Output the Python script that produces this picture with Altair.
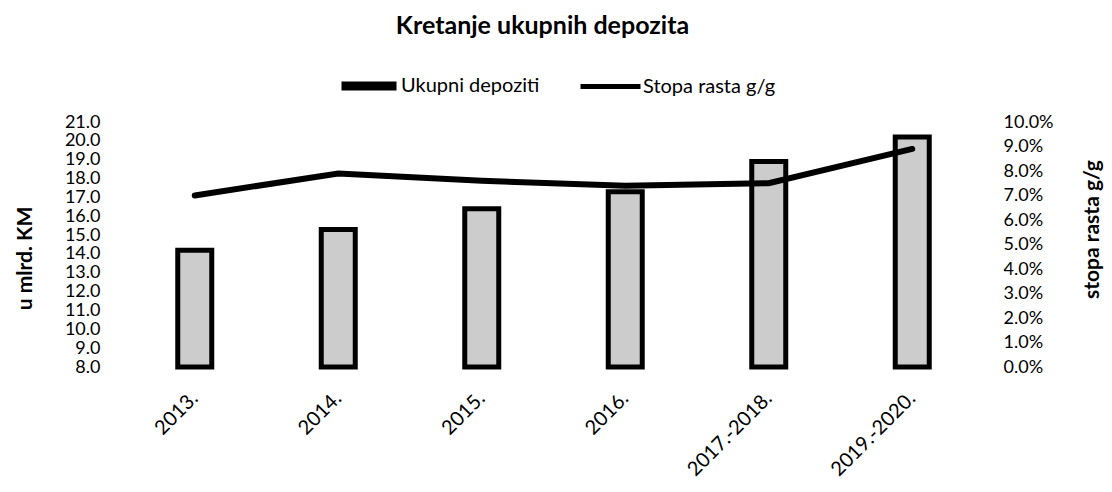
import altair as alt
import pandas as pd

categories = ["2013.", "2014.", "2015.", "2016.", "2017.-2018.", "2019.-2020."]
deposits = [14.2, 15.3, 16.4, 17.3, 18.9, 20.2]
growth = [0.070, 0.079, 0.076, 0.074, 0.075, 0.089]
left_ticks = [8, 9, 10, 11, 12, 13, 14, 15, 16, 17, 18, 19, 20, 21]
right_ticks = [0.0, 0.01, 0.02, 0.03, 0.04, 0.05, 0.06, 0.07, 0.08, 0.09, 0.10]
bar_series = "Ukupni depoziti"
line_series = "Stopa rasta g/g"

df = pd.DataFrame({
    "cat": categories,
    "dep": deposits,
    "rate": growth,
    "s_bar": [bar_series] * len(categories),
    "s_line": [line_series] * len(categories),
})

FONT = "Lato"

x = alt.X(
    "cat:N", sort=categories, title=None,
    scale=alt.Scale(paddingInner=0, paddingOuter=0),
    axis=alt.Axis(labelAngle=-45, labelAlign="right", labelBaseline="middle",
                  labelPadding=28, ticks=False, domain=False, grid=False,
                  labelFontSize=20, labelColor="black", labelFont=FONT),
)

bars = alt.Chart(df).mark_bar(size=34, fill="#cccccc", strokeWidth=5, strokeJoin="miter").encode(
    x=x,
    y=alt.Y("dep:Q",
            scale=alt.Scale(domain=[8, 21], zero=False, nice=False),
            axis=alt.Axis(orient="left", values=left_ticks, format=".1f", title="u mlrd. KM",
                          ticks=False, domain=False, grid=False, labelOverlap=False,
                          labelPadding=23, labelFontSize=18, labelFont=FONT, labelColor="black",
                          titleFont=FONT, titleFontSize=21, titleFontWeight="bold", titleColor="black",
                          titleAngle=270, titleX=-98, titleY=136, titleAlign="center",
                          titleBaseline="middle")),
    y2=alt.datum(8),
    stroke=alt.Stroke("s_bar:N",
                      scale=alt.Scale(domain=[bar_series], range=["black"]),
                      legend=alt.Legend(orient="none", legendX=214, legendY=-68, title=None,
                                        symbolType="stroke", symbolSize=3025,
                                        symbolStrokeColor="black", symbolStrokeWidth=9,
                                        labelFontSize=20, labelFont=FONT, labelColor="black",
                                        labelOffset=0, padding=0)),
)

line = alt.Chart(df).mark_line(strokeWidth=6, strokeCap="round").encode(
    x=x,
    y=alt.Y("rate:Q",
            scale=alt.Scale(domain=[0, 0.10], nice=False),
            axis=alt.Axis(orient="right", values=right_ticks, format=".1%", title="stopa rasta g/g",
                          ticks=False, domain=False, grid=False, labelOverlap=False,
                          labelPadding=19, labelFontSize=18, labelFont=FONT, labelColor="black",
                          titleFont=FONT, titleFontSize=21, titleFontWeight="bold", titleColor="black",
                          titleAngle=270, titleX=108, titleY=107, titleAlign="center",
                          titleBaseline="middle")),
    stroke=alt.Stroke("s_line:N",
                      scale=alt.Scale(domain=[line_series], range=["black"]),
                      legend=alt.Legend(orient="none", legendX=455, legendY=-68, title=None,
                                        symbolType="stroke", symbolSize=3600,
                                        symbolStrokeWidth=5, symbolStrokeColor="black",
                                        labelFontSize=20, labelFont=FONT, labelColor="black",
                                        labelOffset=0, padding=0)),
)

chart = alt.layer(bars, line).resolve_scale(
    y="independent", stroke="independent"
).properties(
    width=861, height=245,
    title=alt.TitleParams("Kretanje ukupnih depozita", font=FONT, fontSize=25,
                          fontWeight="bold", color="black", anchor="middle",
                          offset=15, dx=-11),
    autosize=alt.AutoSizeParams(type="none"),
    padding={"left": 115, "top": 114, "right": 120, "bottom": 116},
    background="white",
).configure_view(stroke=None)

chart.save("out.html", embed_options={"renderer": "svg", "actions": False})
